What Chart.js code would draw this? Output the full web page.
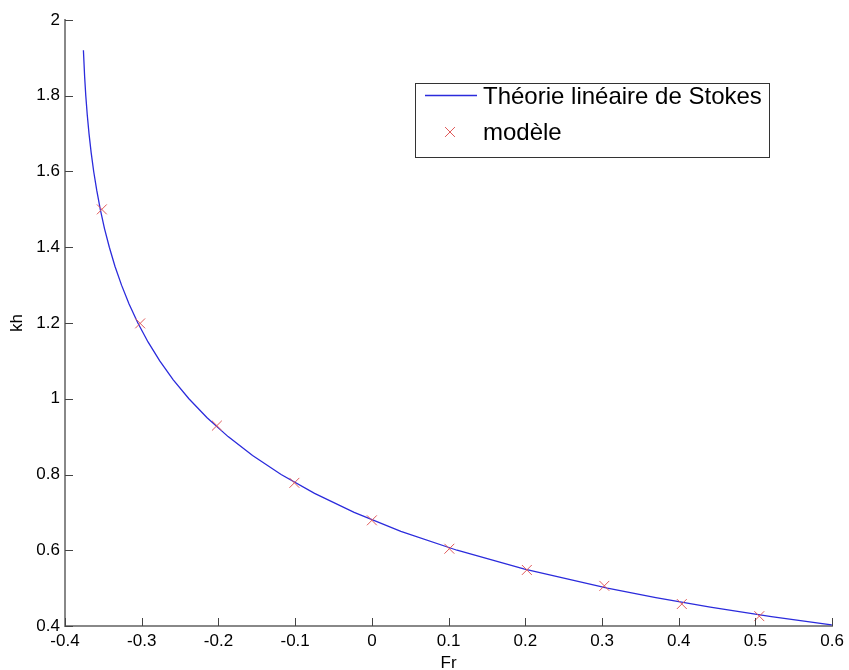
<!DOCTYPE html>
<html>
<head>
<meta charset="utf-8">
<script src="https://cdn.jsdelivr.net/npm/chart.js@4/dist/chart.umd.min.js"></script>
<style>
  html, body { margin: 0; padding: 0; background: #fff; }
  #wrap { width: 849px; height: 670px; }
</style>
</head>
<body>
<div id="wrap"><canvas id="chart"></canvas></div>
<script>
// Théorie linéaire de Stokes
const stokesFr = [-0.3760, -0.3744, -0.3729, -0.3710, -0.3687, -0.3659, -0.3626, -0.3586, -0.3540, -0.3486,
    -0.3422, -0.3349, -0.3263, -0.3165, -0.3050, -0.2918, -0.2765, -0.2589, -0.2385, -0.2148, -0.1874,
    -0.1555, -0.1183, -0.0747, -0.0231, 0.0378, 0.1110, 0.1991, 0.3070, 0.3701, 0.4411, 0.5207, 0.5919, 0.5995];
const stokesKh = [1.92, 1.85, 1.80, 1.75, 1.70, 1.65, 1.60, 1.55, 1.50, 1.45,
    1.40, 1.35, 1.30, 1.25, 1.20, 1.15, 1.10, 1.05, 1.00, 0.95, 0.90,
    0.85, 0.80, 0.75, 0.70, 0.65, 0.60, 0.55, 0.50, 0.475, 0.45, 0.425, 0.405, 0.403];

// modèle (crosses)
const modelFr = [-0.352, -0.302, -0.202, -0.101, 0.0, 0.101, 0.202, 0.303, 0.404, 0.505];
const modelKh = [1.500, 1.199, 0.929, 0.778, 0.679, 0.604, 0.548, 0.506, 0.458, 0.426];

const xTicks = [-0.4, -0.3, -0.2, -0.1, 0, 0.1, 0.2, 0.3, 0.4, 0.5, 0.6];
const yTicks = [0.4, 0.6, 0.8, 1, 1.2, 1.4, 1.6, 1.8, 2];

const FONT = 'Arial, "Liberation Sans", sans-serif';
const fmt = v => String(parseFloat(Number(v).toFixed(2)));

// inward tick marks, MATLAB style
const innerTicks = {
    id: 'innerTicks',
    afterDraw(chart) {
        const ctx = chart.ctx;
        const xs = chart.scales.x, ys = chart.scales.y;
        const area = chart.chartArea;
        ctx.save();
        ctx.strokeStyle = '#444';
        ctx.lineWidth = 1;
        ctx.beginPath();
        xTicks.forEach(v => {
            const px = Math.round(xs.getPixelForValue(v)) + 0.5;
            ctx.moveTo(px, area.bottom);
            ctx.lineTo(px, area.bottom - 8);
        });
        yTicks.forEach(v => {
            const py = Math.round(ys.getPixelForValue(v)) + 0.5;
            ctx.moveTo(area.left, py);
            ctx.lineTo(area.left + 8, py);
        });
        ctx.stroke();
        ctx.restore();
    }
};

// boxed legend drawn from the datasets
const boxLegend = {
    id: 'boxLegend',
    afterDraw(chart) {
        const ctx = chart.ctx;
        const ds = chart.data.datasets;
        const x0 = 415, y0 = 83, w = 354, h = 74;
        ctx.save();
        ctx.fillStyle = '#fff';
        ctx.fillRect(x0, y0, w, h);
        ctx.strokeStyle = '#333';
        ctx.lineWidth = 1;
        ctx.strokeRect(x0 + 0.5, y0 + 0.5, w, h);

        ctx.font = '24px ' + FONT;
        ctx.fillStyle = '#000';
        ctx.textBaseline = 'middle';
        ctx.textAlign = 'left';

        // line row
        ctx.strokeStyle = ds[0].borderColor;
        ctx.lineWidth = ds[0].borderWidth;
        ctx.beginPath();
        ctx.moveTo(425, 95.5);
        ctx.lineTo(477, 95.5);
        ctx.stroke();
        ctx.fillText(ds[0].label, 483, 97);

        // marker row
        ctx.strokeStyle = ds[1].pointBorderColor;
        ctx.lineWidth = 1;
        ctx.beginPath();
        const r = ds[1].pointRadius * Math.SQRT1_2;
        ctx.moveTo(450 - r, 132 - r); ctx.lineTo(450 + r, 132 + r);
        ctx.moveTo(450 - r, 132 + r); ctx.lineTo(450 + r, 132 - r);
        ctx.stroke();
        ctx.fillText(ds[1].label, 483, 133);
        ctx.restore();
    }
};

new Chart(document.getElementById('chart'), {
    type: 'scatter',
    data: {
        datasets: [{
            label: 'Théorie linéaire de Stokes',
            data: stokesFr.map((x, i) => ({x: x, y: stokesKh[i]})),
            showLine: true,
            borderColor: '#2b2bdc',
            borderWidth: 1.3,
            pointRadius: 0,
            tension: 0,
            order: 2
        }, {
            label: 'modèle',
            data: modelFr.map((x, i) => ({x: x, y: modelKh[i]})),
            showLine: false,
            pointStyle: 'crossRot',
            pointRadius: 7,
            pointBorderColor: '#e05a5a',
            pointBackgroundColor: '#e05a5a',
            pointBorderWidth: 1,
            order: 1
        }]
    },
    options: {
        responsive: true,
        maintainAspectRatio: false,
        animation: false,
        layout: { padding: { left: 0, top: 20, right: 13, bottom: 0 } },
        plugins: {
            legend: { display: false },
            tooltip: { enabled: false }
        },
        scales: {
            x: {
                type: 'linear',
                min: -0.4, max: 0.6,
                afterBuildTicks: s => { s.ticks = xTicks.map(v => ({value: v})); },
                afterFit: s => { s.height = 44; },
                grid: { display: false, drawTicks: false },
                border: { display: true, color: '#888', width: 2 },
                ticks: {
                    color: '#000',
                    font: { family: FONT, size: 17 },
                    padding: 5,
                    maxRotation: 0,
                    autoSkip: false,
                    callback: v => fmt(v)
                },
                title: {
                    display: true, text: 'Fr', color: '#000',
                    font: { family: FONT, size: 17 },
                    padding: { top: 0, bottom: -4 }
                }
            },
            y: {
                type: 'linear',
                min: 0.4, max: 2,
                afterBuildTicks: s => { s.ticks = yTicks.map(v => ({value: v})); },
                afterFit: s => { s.width = 65; },
                grid: { display: false, drawTicks: false },
                border: { display: true, color: '#888', width: 2 },
                ticks: {
                    color: '#000',
                    font: { family: FONT, size: 17 },
                    padding: 5,
                    autoSkip: false,
                    callback: v => fmt(v)
                },
                title: {
                    display: true, text: 'kh', color: '#000',
                    font: { family: FONT, size: 17 },
                    padding: { top: 7, bottom: 0 }
                }
            }
        }
    },
    plugins: [innerTicks, boxLegend]
});
</script>
</body>
</html>
